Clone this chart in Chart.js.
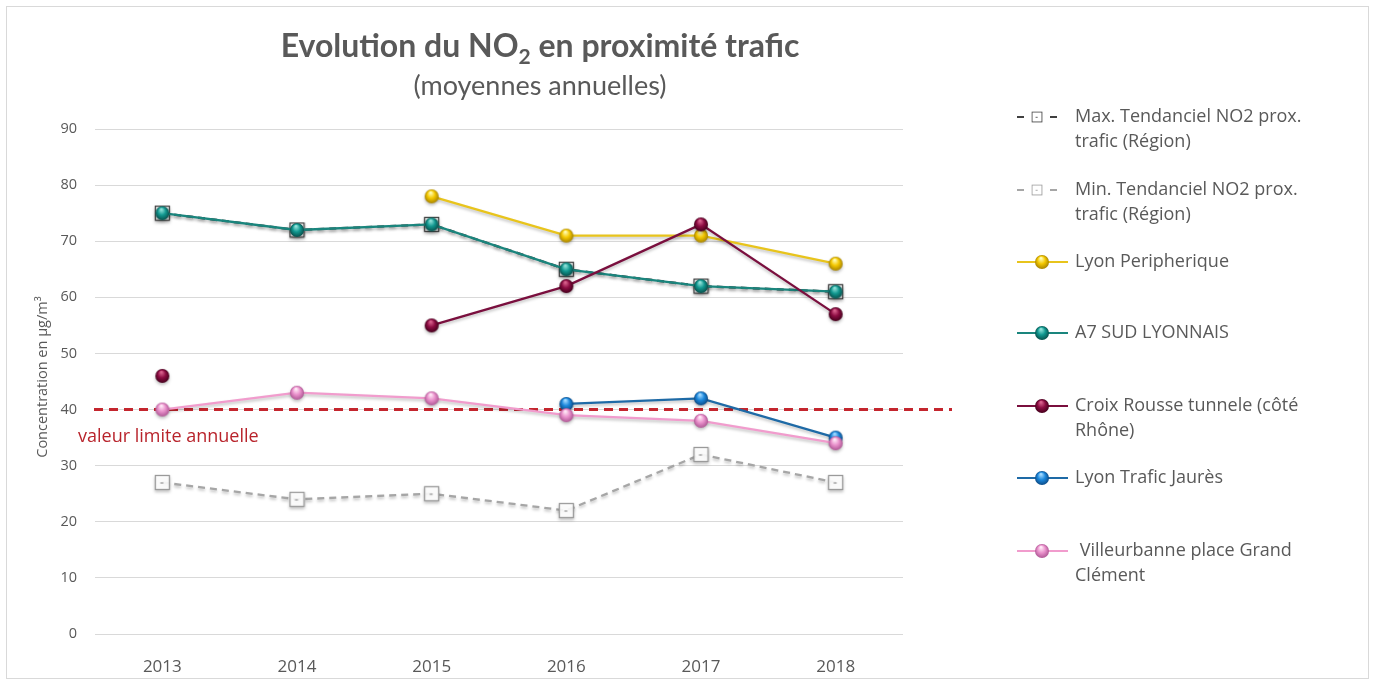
<!DOCTYPE html>
<html>
<head>
<meta charset="utf-8">
<script src="https://cdn.jsdelivr.net/npm/chart.js@4.4.1/dist/chart.umd.min.js"></script>
<style>
  html, body { margin: 0; padding: 0; background: #fff; }
  canvas { display: block; }
</style>
</head>
<body>
<canvas id="myChart" width="1377" height="684"></canvas>
<script>
// annual means, µg/m3
const years = ['2013', '2014', '2015', '2016', '2017', '2018'];
const maxTendanciel = [75, 72, 73, 65, 62, 61];
const minTendanciel = [27, 24, 25, 22, 32, 27];
const lyonPeripherique = [null, null, 78, 71, 71, 66];
const a7SudLyonnais = [75, 72, 73, 65, 62, 61];
const croixRousse = [46, null, 55, 62, 73, 57];
const lyonJaures = [null, null, null, 41, 42, 35];
const villeurbanne = [40, 43, 42, 39, 38, 34];
const valeurLimite = 40;

const grey = '#595959';

// little shaded balls for the markers
function ball(light, mid, dark, r) {
    const c = document.createElement('canvas');
    const s = Math.ceil(r * 2 + 2);
    c.width = c.height = s;
    const g = c.getContext('2d');
    const cx = s / 2, cy = s / 2;
    const grad = g.createRadialGradient(cx - r * 0.15, cy - r * 0.55, r * 0.1, cx, cy, r);
    grad.addColorStop(0, light);
    grad.addColorStop(0.5, mid);
    grad.addColorStop(1, dark);
    g.fillStyle = grad;
    g.beginPath();
    g.arc(cx, cy, r, 0, Math.PI * 2);
    g.fill();
    return c;
}

function square(stroke, size) {
    const c = document.createElement('canvas');
    c.width = c.height = size + 2;
    const g = c.getContext('2d');
    g.fillStyle = 'rgba(255,255,255,0.9)';
    g.fillRect(1, 1, size, size);
    g.strokeStyle = stroke;
    g.lineWidth = 1.3;
    g.strokeRect(1.5, 1.5, size - 1, size - 1);
    g.beginPath();
    g.moveTo(size / 2 - 1, size / 2 + 1.5);
    g.lineTo(size / 2 + 2, size / 2 + 1.5);
    g.stroke();
    return c;
}

const markers = {
    yellow: ball('#fffbb0', '#f4c800', '#a88400', 7),
    teal: ball('#8fe0d8', '#119890', '#08504c', 7),
    maroon: ball('#d8608c', '#8c0c42', '#45001c', 7),
    blue: ball('#a0d8ff', '#1c88dc', '#0c4c88', 7),
    pink: ball('#ffe8f6', '#ea92cc', '#b05896', 7),
    sqDark: square('#404040', 15),
    sqGrey: square('#9a9a9a', 15),
};

const series = [
    { label: 'Max. Tendanciel NO2 prox. trafic (Région)', data: maxTendanciel, color: '#404040', marker: markers.sqDark, dash: [7, 5], order: 6 },
    { label: 'Min. Tendanciel NO2 prox. trafic (Région)', data: minTendanciel, color: '#a6a6a6', marker: markers.sqGrey, dash: [7, 5], order: 7 },
    { label: 'Lyon Peripherique', data: lyonPeripherique, color: '#e8c41c', marker: markers.yellow, order: 4 },
    { label: 'A7 SUD LYONNAIS', data: a7SudLyonnais, color: '#1a857d', marker: markers.teal, order: 5 },
    { label: 'Croix Rousse tunnele (côté Rhône)', data: croixRousse, color: '#7a0f3e', marker: markers.maroon, order: 2 },
    { label: 'Lyon Trafic Jaurès', data: lyonJaures, color: '#1e6aa6', marker: markers.blue, order: 3 },
    { label: ' Villeurbanne place Grand Clément', data: villeurbanne, color: '#f19ccd', marker: markers.pink, order: 1 },
];

// legend lines, with wrapped text as Excel shows it
const legendRows = [
    { lines: ['Max. Tendanciel NO2 prox.', 'trafic (Région)'], y: 117 },
    { lines: ['Min. Tendanciel NO2 prox.', 'trafic (Région)'], y: 190 },
    { lines: ['Lyon Peripherique'], y: 262 },
    { lines: ['A7 SUD LYONNAIS'], y: 333 },
    { lines: ['Croix Rousse tunnele (côté', 'Rhône)'], y: 406 },
    { lines: ['Lyon Trafic Jaurès'], y: 478 },
    { lines: [' Villeurbanne place Grand', 'Clément'], y: 551 },
];

const decor = {
    id: 'decor',
    beforeDraw(chart) {
        const ctx = chart.ctx;
        ctx.save();
        ctx.fillStyle = '#fff';
        ctx.fillRect(0, 0, chart.width, chart.height);
        ctx.strokeStyle = '#d9d9d9';
        ctx.lineWidth = 1;
        ctx.strokeRect(6.5, 6.5, 1362, 672);
        ctx.restore();
    },
    beforeDatasetsDraw(chart) {
        const ctx = chart.ctx;
        const y = chart.scales.y.getPixelForValue(valeurLimite);
        ctx.save();
        ctx.strokeStyle = '#c4262e';
        ctx.lineWidth = 3;
        ctx.setLineDash([9, 6]);
        ctx.beginPath();
        ctx.moveTo(94, y);
        ctx.lineTo(952, y);
        ctx.stroke();
        ctx.setLineDash([]);
        ctx.fillStyle = '#b8232b';
        ctx.font = '18px "Open Sans"';
        ctx.textBaseline = 'middle';
        ctx.fillText('valeur limite annuelle', 78, y + 27);
        ctx.restore();
    },
    beforeDatasetDraw(chart) {
        const ctx = chart.ctx;
        ctx.save();
        ctx.shadowColor = 'rgba(0,0,0,0.25)';
        ctx.shadowBlur = 3;
        ctx.shadowOffsetY = 2;
    },
    afterDatasetDraw(chart) {
        chart.ctx.restore();
    },
    afterDraw(chart) {
        const ctx = chart.ctx;
        ctx.save();
        // title
        ctx.fillStyle = grey;
        ctx.textBaseline = 'alphabetic';
        const big = 'bold 32px Lato', small = 'bold 21px Lato';
        const p1 = 'Evolution du NO', p3 = ' en proximité trafic';
        ctx.font = big;
        const w1 = ctx.measureText(p1).width, w3 = ctx.measureText(p3).width;
        ctx.font = small;
        const w2 = ctx.measureText('2').width;
        const x = 540 - (w1 + w2 + w3) / 2;
        ctx.font = big;
        ctx.fillText(p1, x, 57);
        ctx.font = small;
        ctx.fillText('2', x + w1, 64);
        ctx.font = big;
        ctx.fillText(p3, x + w1 + w2, 57);
        ctx.font = '27px Lato';
        ctx.textAlign = 'center';
        ctx.fillText('(moyennes annuelles)', 540, 95);

        // y axis title
        ctx.save();
        ctx.translate(43, 377);
        ctx.rotate(-Math.PI / 2);
        ctx.font = '14.5px "Open Sans"';
        ctx.textBaseline = 'middle';
        ctx.fillText('Concentration en µg/m³', 0, 0);
        ctx.restore();

        // legend
        ctx.textAlign = 'left';
        ctx.textBaseline = 'middle';
        ctx.font = '18px "Open Sans"';
        series.forEach((s, i) => {
            const row = legendRows[i];
            const y = row.y;
            ctx.strokeStyle = s.color;
            ctx.lineWidth = 2.2;
            if (s.dash) {
                ctx.beginPath();
                ctx.moveTo(1017, y); ctx.lineTo(1024, y);
                ctx.moveTo(1050, y); ctx.lineTo(1057, y);
                ctx.stroke();
                ctx.drawImage(s.marker, 1037 - 6, y - 6, 12, 12);
            } else {
                ctx.beginPath();
                ctx.moveTo(1017, y); ctx.lineTo(1068, y);
                ctx.stroke();
                ctx.drawImage(s.marker, 1042 - s.marker.width / 2, y - s.marker.height / 2);
            }
            ctx.fillStyle = grey;
            row.lines.forEach((t, k) => ctx.fillText(t, 1075, y + k * 25));
        });
        ctx.restore();
    },
};

const data = {
    labels: years,
    datasets: series.map(s => ({
        label: s.label,
        data: s.data,
        borderColor: s.color,
        backgroundColor: s.color,
        borderWidth: 2.3,
        borderDash: s.dash || [],
        pointStyle: s.marker,
        spanGaps: false,
        order: s.order,
        tension: 0,
    })),
};

const config = {
    type: 'line',
    data: data,
    options: {
        responsive: false,
        animation: false,
        layout: {
            padding: { left: 0, right: 474, top: 129, bottom: 0 },
        },
        plugins: {
            legend: { display: false },
            title: { display: false },
            tooltip: { enabled: false },
        },
        scales: {
            x: {
                offset: true,
                grid: { display: false },
                border: { display: false },
                ticks: {
                    color: grey,
                    font: { family: 'Open Sans', size: 17 },
                    padding: 15,
                },
                afterFit: (scale) => { scale.height = 50; },
            },
            y: {
                min: 0,
                max: 90,
                grid: { color: '#d9d9d9', drawTicks: false, lineWidth: 1 },
                border: { display: false },
                ticks: {
                    stepSize: 10,
                    color: grey,
                    font: { family: 'Open Sans', size: 14.5 },
                    padding: 18,
                },
                afterFit: (scale) => { scale.width = 95; },
            },
        },
    },
    plugins: [decor],
};

const ctx = document.getElementById('myChart').getContext('2d');
const myChart = new Chart(ctx, config);
</script>
</body>
</html>
